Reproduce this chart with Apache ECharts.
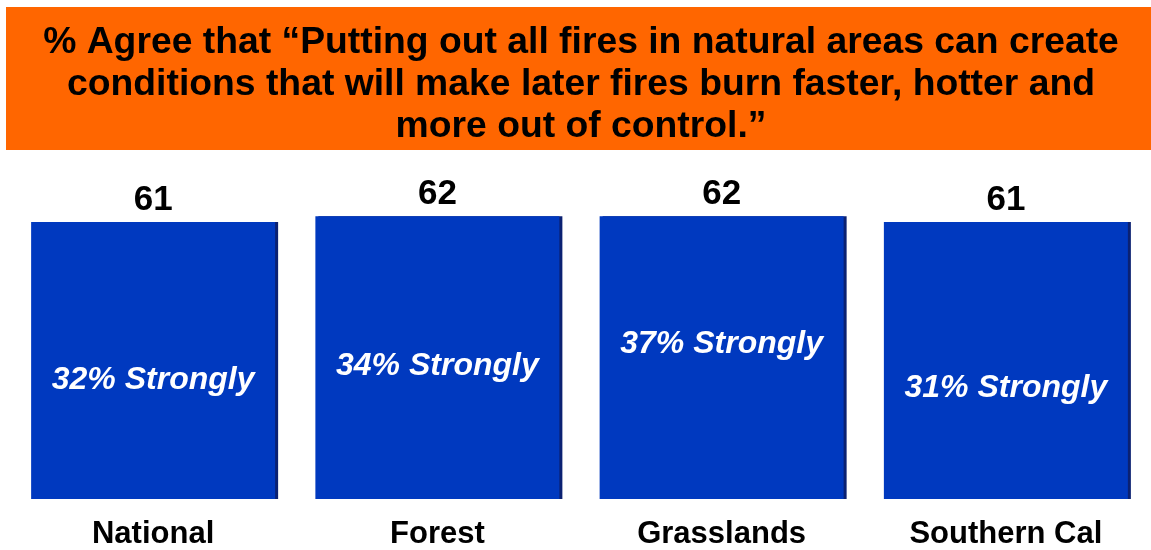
<!DOCTYPE html>
<html>
<head>
<meta charset="utf-8">
<script src="https://cdn.jsdelivr.net/npm/echarts@6/dist/echarts.min.js"></script>
<style>
  html, body { margin: 0; padding: 0; background: #fff; }
  #main { width: 1151px; height: 550px; }
</style>
</head>
<body>
<div id="main"></div>
<script>
  // 数据
  var categories = ['National', 'Forest', 'Grasslands', 'Southern Cal'];
  var agreeValues = [61, 62, 62, 61];
  var stronglyValues = [32, 34, 37, 31];
  var titleLines = [
    '% Agree that \u201cPutting out all fires in natural areas can create',
    'conditions that will make later fires burn faster, hotter and',
    'more out of control.\u201d'
  ];

  var font = '"Liberation Sans", Arial, sans-serif';
  var myChart = echarts.init(document.getElementById('main'));

  var option = {
    backgroundColor: '#fff',
    animation: false,
    graphic: [{
      type: 'rect',
      z: -1,
      shape: { x: 6, y: 7, width: 1145, height: 143 },
      style: { fill: '#FF6600' }
    }],
    title: {
      text: titleLines.join('\n'),
      left: 581,
      textAlign: 'center',
      top: 22,
      padding: 0,
      textStyle: {
        fontFamily: font,
        fontSize: 37.3,
        fontWeight: 'bold',
        color: '#000',
        lineHeight: 42
      }
    },
    grid: {
      left: 11,
      right: 3,
      top: 169,
      bottom: 45,
      containLabel: false
    },
    xAxis: {
      type: 'category',
      data: categories,
      axisLine: { show: false },
      axisTick: { show: false },
      axisLabel: {
        margin: 20,
        fontFamily: font,
        fontSize: 31,
        fontWeight: 'bold',
        color: '#000'
      }
    },
    yAxis: [{
      type: 'value',
      min: 14,
      max: 70,
      show: false,
      splitLine: { show: false }
    }, {
      // 隐藏的第二个轴，用来放 "Strongly" 标签
      type: 'value',
      min: 15.7,
      max: 60.4,
      show: false,
      splitLine: { show: false }
    }],
    series: [{
      name: 'Agree',
      type: 'bar',
      data: agreeValues,
      barWidth: 244,
      itemStyle: {
        color: '#0039BF',
        shadowColor: '#0b2172',
        shadowOffsetX: 3,
        shadowOffsetY: 0,
        shadowBlur: 0
      },
      label: {
        show: true,
        position: 'top',
        distance: 4,
        fontFamily: font,
        fontSize: 35,
        fontWeight: 'bold',
        color: '#000'
      }
    }, {
      name: 'Strongly',
      type: 'scatter',
      yAxisIndex: 1,
      data: stronglyValues,
      symbolSize: 1,
      itemStyle: { color: 'transparent', opacity: 1 },
      label: {
        show: true,
        position: 'inside',
        offset: [0, 2],
        formatter: '{c}% Strongly',
        fontFamily: font,
        fontSize: 32,
        fontWeight: 'bold',
        fontStyle: 'italic',
        color: '#ffffff',
        opacity: 1
      },
      z: 5
    }]
  };

  myChart.setOption(option);
</script>
</body>
</html>
